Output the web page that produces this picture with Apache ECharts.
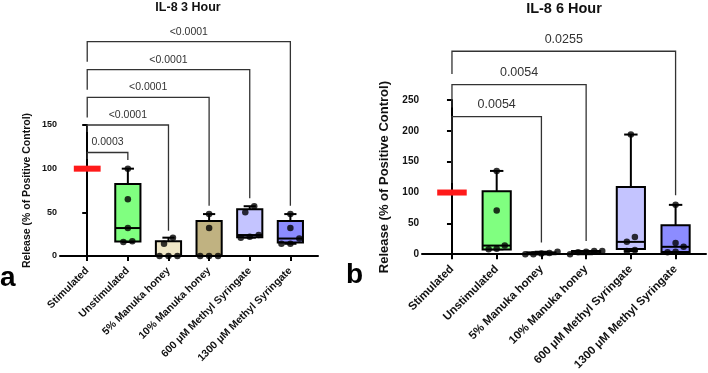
<!DOCTYPE html>
<html>
<head>
<meta charset="utf-8">
<script src="https://cdn.jsdelivr.net/npm/echarts@6/dist/echarts.min.js"></script>
<style>html,body{margin:0;padding:0;background:#fff}#main{width:708px;height:373px}</style>
</head>
<body>
<div id="main"></div>
<script type="text/javascript">
var categories = ['Stimulated', 'Unstimulated', '5% Manuka honey', '10% Manuka honey', '600 μM Methyl Syringate', '1300 μM Methyl Syringate'];
var boxColors = ['#ff1a1a', '#80ff80', '#efe6c6', '#c0b281', '#c4c4ff', '#8c8cff'];

// box stats per group: [min, q1, median, q3, max]
var box3h = [[100, 100, 100, 100, 100], [16, 16.5, 32, 82.5, 100], [0, 0, 0, 17, 21], [0, 0, 0, 40, 48], [21, 21.5, 24, 53.5, 57], [14, 15.5, 20, 40, 48]];
var box6h = [[100, 100, 100, 100, 100], [8, 7.5, 14, 102, 135], [0, 0, 1, 3, 4], [0, 1.5, 4, 5, 5], [5, 8.5, 20, 109, 194], [3, 3.5, 12, 47, 80]];

// individual points (stimulated points sit under the red bar)
var points3h = [[], [100, 65, 32, 17, 16], [21, 14, 0, 0, 0], [48, 32, 0, 0, 0], [57, 50, 24, 22, 21], [48, 32, 20, 14, 14]];
var points6h = [[], [135, 71, 14, 9, 8], [4, 2, 1, 0, 0], [5, 5, 4, 3, 0], [194, 28, 20, 7, 5], [80, 18, 12, 4, 3]];

// y ticks
var ticks3h = [0, 50, 100, 150];
var ticks6h = [0, 50, 100, 150, 200, 250];

// comparison brackets: [from, to, top, left leg bottom, right leg bottom]
var brackets3h = [[0, 1, 118.5, 111, 110], [0, 2, 150, 142, 29], [0, 3, 181.7, 158.5, 57.6], [0, 4, 213.3, 190.5, 66], [0, 5, 245.4, 222.5, 57.6]];
var bracketLabels3h = ['0.0003', '<0.0001', '<0.0001', '<0.0001', '<0.0001'];
var brackets6h = [[0, 2, 223, 115.6, 19], [0, 3, 275, 238, 21.5], [0, 5, 329, 292, 95.6]];
var bracketLabels6h = ['0.0054', '0.0054', '0.0255'];

var FONT = 'Arial, "Liberation Sans", Helvetica, sans-serif';

function boxRows(stats) {
    return stats.map(function (s, i) { return [i].concat(s); });
}

// spread points with close values sideways
function swarm(groups, tol, step) {
    var out = [];
    groups.forEach(function (vals, g) {
        var s = vals.slice().sort(function (a, b) { return a - b; });
        var i = 0;
        while (i < s.length) {
            var j = i;
            while (j + 1 < s.length && s[j + 1] - s[i] <= tol) j++;
            var n = j - i + 1;
            for (var k = 0; k < n; k++) out.push([g + (k - (n - 1) / 2) * step, s[i + k]]);
            i = j + 1;
        }
    });
    return out;
}

function makeBoxRender(hw) {
    return function (params, api) {
        var i = api.value(0);
        var mn = api.value(1), q1 = api.value(2), md = api.value(3), q3 = api.value(4), mx = api.value(5);
        var color = boxColors[i];
        if (q3 === q1) {
            var a = api.coord([i - 0.33, md]), b = api.coord([i + 0.33, md]);
            return { type: 'rect', shape: { x: a[0], y: a[1] - 3, width: b[0] - a[0], height: 6 }, style: { fill: color } };
        }
        var L = api.coord([i - hw, q3]), R = api.coord([i + hw, q1]);
        var xc = api.coord([i, 0])[0];
        var cw = api.coord([i + 0.15, 0])[0] - xc;
        var pMax = api.coord([i, mx])[1], pMin = api.coord([i, mn])[1], pMed = api.coord([i, md])[1];
        var ls = { stroke: '#000', lineWidth: 2 };
        return {
            type: 'group', children: [
                { type: 'line', shape: { x1: xc, y1: L[1], x2: xc, y2: pMax }, style: ls },
                { type: 'line', shape: { x1: xc - cw, y1: pMax, x2: xc + cw, y2: pMax }, style: ls },
                { type: 'line', shape: { x1: xc, y1: R[1], x2: xc, y2: pMin }, style: ls },
                { type: 'line', shape: { x1: xc - cw, y1: pMin, x2: xc + cw, y2: pMin }, style: ls },
                { type: 'rect', shape: { x: L[0], y: L[1], width: R[0] - L[0], height: R[1] - L[1] }, style: { fill: color, stroke: '#000', lineWidth: 2 } },
                { type: 'line', shape: { x1: L[0], y1: pMed, x2: R[0], y2: pMed }, style: ls }
            ]
        };
    };
}

function makeBracketRender(labels, fontSize, gap) {
    return function (params, api) {
        var a = api.value(0), b = api.value(1), top = api.value(2), lb = api.value(3), rb = api.value(4);
        var p1 = api.coord([a, lb]), p2 = api.coord([a, top]), p3 = api.coord([b, top]), p4 = api.coord([b, rb]);
        return {
            type: 'group', children: [
                { type: 'polyline', shape: { points: [p1, p2, p3, p4] }, style: { stroke: '#333', lineWidth: 1.3, fill: 'none' } },
                { type: 'text', x: (p2[0] + p3[0]) / 2, y: p2[1] - gap, style: { text: labels[params.dataIndex], fill: '#333', font: fontSize + 'px ' + FONT, align: 'center', verticalAlign: 'middle' } }
            ]
        };
    };
}

function xAxisCfg(idx, fs) {
    return {
        type: 'value', gridIndex: idx, min: -0.67, max: 5.68,
        splitLine: { show: false },
        axisLine: { show: true, lineStyle: { color: '#000', width: 2 } },
        axisTick: { show: true, customValues: [0, 1, 2, 3, 4, 5], length: 5, lineStyle: { color: '#000', width: 2 } },
        axisLabel: {
            customValues: [0, 1, 2, 3, 4, 5], rotate: 45, margin: 13,
            fontSize: fs, fontWeight: 'bold', color: '#111', fontFamily: FONT,
            formatter: function (v) { return categories[Math.round(v)]; }
        }
    };
}

function yAxisCfg(idx, ticks, fs, nameFs, gap) {
    return {
        type: 'value', gridIndex: idx, min: ticks[0], max: ticks[ticks.length - 1],
        name: 'Release (% of Positive Control)', nameLocation: 'middle', nameGap: gap, nameRotate: 90,
        nameTextStyle: { fontSize: nameFs, fontWeight: 'bold', color: '#111', fontFamily: FONT },
        splitLine: { show: false },
        axisLine: { show: true, lineStyle: { color: '#000', width: 2 } },
        axisTick: { show: true, customValues: ticks, length: 5, lineStyle: { color: '#000', width: 2 } },
        axisLabel: { customValues: ticks, margin: 3, fontSize: fs, fontWeight: 'bold', color: '#111', fontFamily: FONT }
    };
}

var myChart = echarts.init(document.getElementById('main'));
var option = {
    backgroundColor: '#fff',
    animation: false,
    grid: [
        { left: 60, top: 125, width: 258, height: 131 },
        { left: 422, top: 100, width: 284, height: 155 }
    ],
    xAxis: [xAxisCfg(0, 10.5), xAxisCfg(1, 11.5)],
    yAxis: [yAxisCfg(0, ticks3h, 9, 10.5, 27), yAxisCfg(1, ticks6h, 10, 13, 31)],
    graphic: [
        { type: 'text', x: 188, y: 1, style: { text: 'IL-8 3 Hour', font: 'bold 12.5px ' + FONT, fill: '#111', align: 'center', verticalAlign: 'top' } },
        { type: 'text', x: 564, y: 1, style: { text: 'IL-8 6 Hour', font: 'bold 14.5px ' + FONT, fill: '#111', align: 'center', verticalAlign: 'top' } },
        { type: 'text', x: 0, y: 278, style: { text: 'a', font: 'bold 28px ' + FONT, fill: '#000', align: 'left', verticalAlign: 'middle' } },
        { type: 'text', x: 346, y: 275, style: { text: 'b', font: 'bold 28px ' + FONT, fill: '#000', align: 'left', verticalAlign: 'middle' } }
    ],
    series: [
        { type: 'custom', xAxisIndex: 0, yAxisIndex: 0, renderItem: makeBracketRender(bracketLabels3h, 10.5, 10), data: brackets3h, z: 1, silent: true },
        { type: 'custom', xAxisIndex: 1, yAxisIndex: 1, renderItem: makeBracketRender(bracketLabels6h, 12.5, 12), data: brackets6h, z: 1, silent: true },
        { type: 'custom', xAxisIndex: 0, yAxisIndex: 0, renderItem: makeBoxRender(0.31), data: boxRows(box3h), z: 2 },
        { type: 'custom', xAxisIndex: 1, yAxisIndex: 1, renderItem: makeBoxRender(0.315), data: boxRows(box6h), z: 2 },
        { type: 'scatter', xAxisIndex: 0, yAxisIndex: 0, data: swarm(points3h, 8, 0.22), symbolSize: 6.5, itemStyle: { color: '#000' }, z: 3 },
        { type: 'scatter', xAxisIndex: 1, yAxisIndex: 1, data: swarm(points6h, 11, 0.18), symbolSize: 6.5, itemStyle: { color: '#000' }, z: 3 }
    ]
};
myChart.setOption(option);
</script>
</body>
</html>
